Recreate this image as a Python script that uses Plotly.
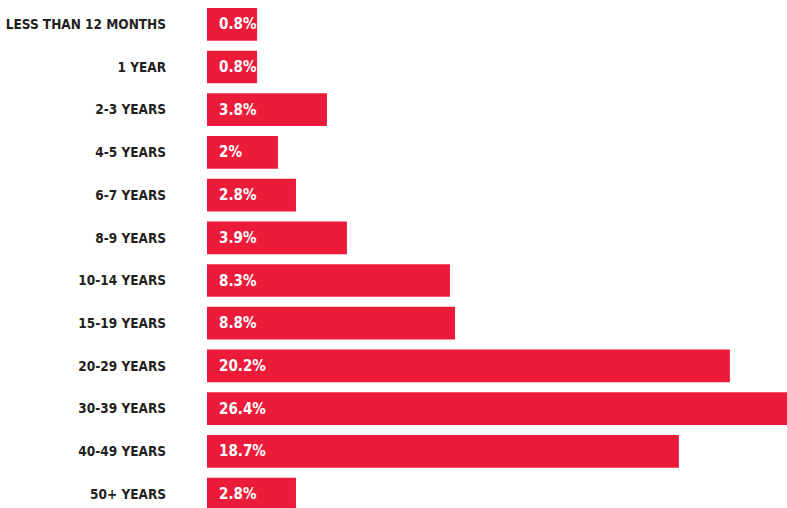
import plotly.graph_objects as go

categories = ["LESS THAN 12 MONTHS", "1 YEAR", "2-3 YEARS", "4-5 YEARS", "6-7 YEARS",
              "8-9 YEARS", "10-14 YEARS", "15-19 YEARS", "20-29 YEARS", "30-39 YEARS",
              "40-49 YEARS", "50+ YEARS"]
share_labels = ["0.8%", "0.8%", "3.8%", "2%", "2.8%", "3.9%", "8.3%", "8.8%",
                "20.2%", "26.4%", "18.7%", "2.8%"]
# bar lengths as drawn in the picture (same units, full width = 26.4)
bar_lengths = [2.28, 2.28, 5.46, 3.23, 4.05, 6.37, 11.06, 11.29, 23.8, 26.4, 21.48, 4.05]

RED = "#ED1B3A"
DARK = "#231F20"
FONT = "DejaVu Sans Condensed, DejaVu Sans, sans-serif"

idx = list(range(len(categories)))

fig = go.Figure(go.Bar(
    x=bar_lengths, y=idx, orientation="h",
    marker=dict(color=RED, line=dict(width=0)),
    width=0.766, hoverinfo="skip",
))

for i, t in zip(idx, share_labels):
    fig.add_annotation(x=0, y=i, xref="x", yref="y", text="<b>%s</b>" % t,
                       showarrow=False, xanchor="left", xshift=10,
                       font=dict(family=FONT, size=15, color="white"))

fig.update_layout(
    width=787, height=508,
    margin=dict(l=207, r=0, t=0, b=0, autoexpand=False),
    paper_bgcolor="white", plot_bgcolor="white",
    showlegend=False,
    xaxis=dict(range=[0, 26.4], visible=False, fixedrange=True, automargin=False),
    yaxis=dict(range=[11.328, -0.569], tickmode="array", tickvals=idx,
               ticktext=["<b>%s</b>" % c for c in categories],
               showgrid=False, zeroline=False, showline=False, ticks="",
               ticklabelstandoff=40, automargin=False, fixedrange=True,
               tickfont=dict(family=FONT, size=13.5, color=DARK)),
)

fig.write_html("out.html", config={"displayModeBar": False, "staticPlot": True},
               post_script="document.body.style.margin='0';document.body.style.padding='0';")
